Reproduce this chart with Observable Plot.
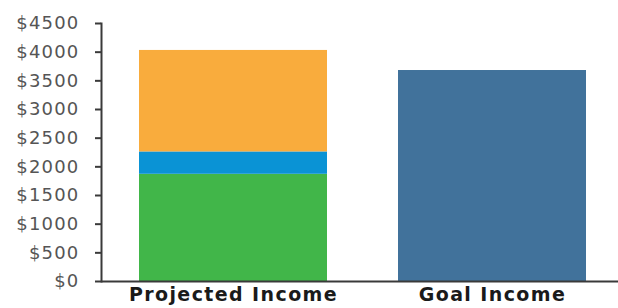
<!DOCTYPE html>
<html>
<head>
<meta charset="utf-8">
<script src="https://cdn.jsdelivr.net/npm/d3@7"></script>
<script src="https://cdn.jsdelivr.net/npm/@observablehq/plot@0.6"></script>
<style>
  html, body { margin: 0; padding: 0; background: #fff; }
  #chart svg { display: block; }
  #chart g[aria-label="y-axis tick label"] text { letter-spacing: 1.2px; }
  #chart g[aria-label="x-axis tick label"] text { letter-spacing: 1.4px; }
</style>
</head>
<body>
<div id="chart"></div>
<script>
// Data
const categories = ["Projected Income", "Goal Income"];
const barCategory = ["Projected Income", "Projected Income", "Projected Income", "Goal Income"];
const barSeries = ["Part A", "Part B", "Part C", "Goal"];
const barValues = [1870, 390, 1770, 3680];
const seriesColors = ["#41b649", "#0a93d5", "#f9ac3d", "#41729b"];
const yTicks = [0, 500, 1000, 1500, 2000, 2500, 3000, 3500, 4000, 4500];

const rows = barValues.map((v, i) => ({category: barCategory[i], series: barSeries[i], value: v}));

const chart = Plot.plot({
  width: 618,
  height: 308,
  marginLeft: 101,
  marginRight: 0,
  marginTop: 23,
  marginBottom: 27,
  style: {fontFamily: "DejaVu Sans", background: "#fff"},
  x: {
    domain: categories,
    paddingInner: 0.274,
    paddingOuter: 0.135,
    align: 0.54,
    label: null,
    axis: null
  },
  y: {domain: [0, 4500], axis: null},
  color: {domain: barSeries, range: seriesColors},
  marks: [
    Plot.barY(rows, Plot.stackY({x: "category", y: "value", fill: "series", order: barSeries})),
    Plot.axisY({
      ticks: yTicks,
      tickFormat: d => "$" + d,
      tickSize: 6,
      tickPadding: 16,
      fontSize: 18,
      stroke: "#3a3a3a",
      strokeWidth: 2,
      fill: "#555555",
      label: null
    }),
    Plot.frame({anchor: "left", stroke: "#3a3a3a", strokeWidth: 2}),
    Plot.ruleY([0], {stroke: "#3a3a3a", strokeWidth: 2}),
    Plot.axisX({
      tickSize: 0,
      tickPadding: 6,
      fontSize: 19,
      fontWeight: "bold",
      fill: "#1a1a1a",
      label: null
    })
  ]
});
document.getElementById("chart").appendChild(chart);
</script>
</body>
</html>
